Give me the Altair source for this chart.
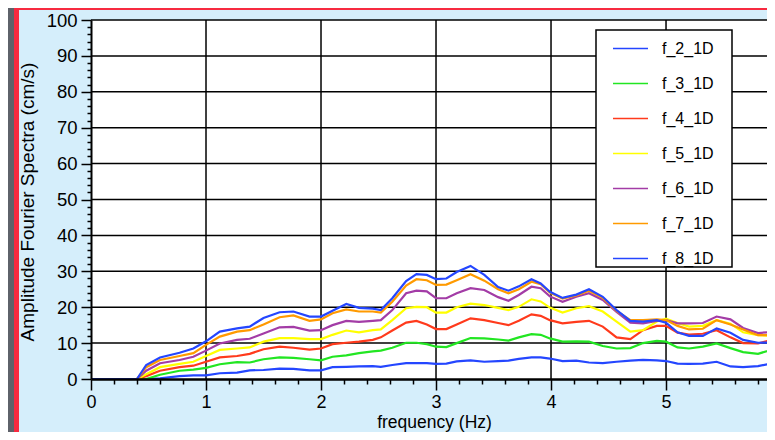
import altair as alt
import pandas as pd

# ---- data ----
freq = [0, 0.4, 0.48, 0.6, 0.77, 0.89, 1.0, 1.12, 1.27, 1.38, 1.5, 1.64, 1.76, 1.9, 2.0,
        2.1, 2.22, 2.33, 2.45, 2.52, 2.62, 2.74, 2.83, 2.92, 3.0, 3.09, 3.18, 3.3, 3.42,
        3.54, 3.63, 3.72, 3.83, 3.91, 3.99, 4.1, 4.22, 4.33, 4.45, 4.57, 4.69, 4.8, 4.92,
        5.0, 5.1, 5.2, 5.32, 5.44, 5.56, 5.67, 5.8, 5.95]

f_2_1D = [0, 0, 0, 0.2, 0.8, 1.0, 1.0, 1.6, 1.8, 2.4, 2.5, 2.9, 2.8, 2.4, 2.4,
          3.3, 3.4, 3.5, 3.6, 3.4, 3.9, 4.4, 4.4, 4.4, 4.2, 4.3, 4.9, 5.2, 4.8,
          5.0, 5.1, 5.6, 6.0, 6.0, 5.7, 5.0, 5.1, 4.6, 4.4, 4.8, 5.1, 5.3, 5.2,
          5.0, 4.3, 4.2, 4.3, 4.8, 3.5, 3.3, 3.6, 4.5]
f_3_1D = [0, 0, 0, 1.2, 2.3, 2.6, 3.1, 4.1, 4.7, 4.6, 5.5, 6.0, 5.9, 5.5, 5.2,
          6.2, 6.6, 7.2, 7.7, 7.9, 8.7, 10.1, 10.1, 9.7, 9.0, 8.9, 10.0, 11.4, 11.3,
          11.0, 10.7, 11.6, 12.5, 12.3, 11.3, 10.4, 10.5, 10.4, 9.2, 8.5, 8.6, 10.0, 10.6,
          10.4, 8.8, 8.5, 9.0, 9.9, 8.6, 7.5, 7.0, 8.5]
f_4_1D = [0, 0, 0.8, 2.3, 3.3, 3.7, 4.8, 6.0, 6.4, 7.0, 8.3, 9.0, 8.7, 8.2, 8.5,
          9.7, 10.1, 10.4, 10.9, 11.6, 13.5, 15.7, 16.2, 15.2, 13.9, 13.9, 15.2, 16.9, 16.4,
          15.6, 15.0, 16.2, 18.0, 17.6, 16.4, 15.5, 15.9, 16.2, 14.6, 11.6, 11.1, 13.6, 14.8,
          14.8, 12.9, 12.4, 12.6, 13.6, 11.6, 10.0, 9.9, 11.1]
f_5_1D = [0, 0, 1.3, 3.3, 4.2, 4.8, 6.4, 8.1, 8.5, 8.8, 10.4, 11.4, 11.4, 11.1, 11.1,
          12.3, 13.5, 13.0, 13.6, 13.8, 16.4, 19.7, 20.1, 20.0, 18.5, 18.5, 20.0, 21.0, 20.6,
          19.8, 19.2, 20.1, 22.2, 21.6, 19.9, 18.5, 19.7, 20.3, 18.8, 16.0, 13.2, 13.6, 16.0,
          16.8, 15.6, 14.6, 14.8, 16.4, 15.4, 13.0, 12.2, 12.0]
f_6_1D = [0, 0, 2.3, 4.4, 5.3, 6.2, 7.9, 9.9, 10.9, 11.2, 12.7, 14.4, 14.5, 13.5, 13.6,
          15.0, 16.2, 15.9, 16.2, 16.4, 19.2, 23.9, 24.6, 24.4, 22.5, 22.5, 23.9, 25.3, 24.8,
          22.8, 21.8, 23.4, 25.7, 25.3, 23.0, 21.5, 22.9, 23.9, 22.0, 18.7, 15.7, 15.5, 16.2,
          16.4, 15.5, 15.5, 15.6, 17.4, 16.6, 14.2, 12.8, 13.2]
f_7_1D = [0, 0, 3.3, 5.3, 6.4, 7.2, 9.5, 11.8, 13.2, 13.6, 15.2, 17.2, 17.7, 16.2, 16.6,
          18.3, 19.4, 18.8, 18.8, 18.5, 21.5, 26.0, 27.8, 27.5, 26.2, 26.3, 27.5, 29.2, 27.4,
          25.0, 23.9, 25.0, 27.1, 26.4, 24.1, 22.4, 23.3, 24.6, 22.6, 19.0, 16.4, 16.4, 16.6,
          16.4, 14.8, 13.8, 14.0, 16.4, 15.2, 13.8, 12.2, 12.2]
f_8_1D = [0, 0, 3.9, 6.0, 7.3, 8.5, 10.5, 13.2, 14.1, 14.6, 17.0, 18.6, 18.8, 17.4, 17.4,
          19.0, 20.9, 19.8, 19.6, 19.2, 22.5, 27.3, 29.2, 29.0, 27.8, 28.0, 29.8, 31.5, 29.0,
          25.6, 24.6, 25.8, 27.8, 26.6, 24.3, 22.6, 23.5, 25.0, 22.9, 19.2, 16.2, 16.0, 16.4,
          15.7, 13.0, 12.0, 12.0, 14.1, 12.9, 10.9, 10.1, 10.2]

series_names = ["f_2_1D", "f_3_1D", "f_4_1D", "f_5_1D", "f_6_1D", "f_7_1D", "f_8_1D"]
series_values = [f_2_1D, f_3_1D, f_4_1D, f_5_1D, f_6_1D, f_7_1D, f_8_1D]
series_colors = ["#2446ff", "#22e622", "#ff3a1c", "#ffff00", "#a33ca6", "#ff9a00", "#2446ff"]

x_grid = [1, 2, 3, 4, 5]
y_grid = [10, 20, 30, 40, 50, 60, 70, 80, 90, 100]
x_ticks = [round(i * 0.2, 1) for i in range(30)]
y_ticks = [i * 2 for i in range(51)]

# ---- layout constants (pixels) ----
W, H = 676, 359
PAD_L, PAD_T, PAD_B = 83, 12, 53
X_MAX = 5.878
FONT = "Liberation Sans"

rows = []
for name, vals in zip(series_names, series_values):
    for f, a in zip(freq, vals):
        rows.append({"frequency": f, "amplitude": a, "series": name})
df = pd.DataFrame(rows)

is_major = "abs(datum.value - round(datum.value)) < 1e-6"
is_major10 = "datum.value % 10 === 0"

x_scale = alt.Scale(domain=[0, X_MAX], nice=False, zero=False)
y_scale = alt.Scale(domain=[0, 100], nice=False)

x_axis = alt.Axis(
    values=x_ticks, grid=False, zindex=1,
    labelExpr=f"{is_major} ? '' + round(datum.value) : ''",
    tickSize={"condition": {"test": is_major, "value": 11}, "value": 5},
    tickColor="black", tickWidth=1.5, domainColor="black", domainWidth=2.5,
    labelFont=FONT, labelFontSize=18, labelColor="black", labelPadding=3,
    labelFlush=False, labelOverlap=False,
    title="frequency (Hz)", titleFont=FONT, titleFontSize=17.5, titleFontWeight="normal",
    titleColor="black", titleX=343, titleY=43, titleBaseline="middle", titleAlign="center",
)
y_axis = alt.Axis(
    values=y_ticks, grid=False, zindex=1,
    labelExpr=f"{is_major10} ? datum.label : ''",
    tickSize={"condition": {"test": is_major10, "value": 10}, "value": 4},
    tickColor="black", tickWidth=1.5, domainColor="black", domainWidth=2,
    labelFont=FONT, labelFontSize=18.5, labelColor="black", labelPadding=4,
    labelFlush=False, labelOverlap=False,
    title="Amplitude Fourier Spectra (cm/s)", titleFont=FONT, titleFontSize=19,
    titleFontWeight="normal", titleColor="black", titleX=-64, titleY=H / 2 + 2,
    titleBaseline="middle", titleAlign="center", titleAngle=270,
)

X = alt.X("frequency:Q", scale=x_scale, axis=x_axis)
Y = alt.Y("amplitude:Q", scale=y_scale, axis=y_axis)

one = pd.DataFrame({"k": [0]})
gray = alt.Chart(one).mark_rect(color="#5e626a").encode(
    x=alt.value(-PAD_L), x2=alt.value(W + 20), y=alt.value(-PAD_T), y2=alt.value(H + PAD_B + 20))
red = alt.Chart(one).mark_rect(color="#f72a40").encode(
    x=alt.value(-77), x2=alt.value(W + 20), y=alt.value(-PAD_T), y2=alt.value(H + PAD_B + 20))
blue = alt.Chart(one).mark_rect(color="#d5eefb").encode(
    x=alt.value(-72), x2=alt.value(W + 20), y=alt.value(-10), y2=alt.value(H + PAD_B + 20))
white = alt.Chart(one).mark_rect(color="white").encode(
    x=alt.value(0), x2=alt.value(W + 20), y=alt.value(0), y2=alt.value(H))

gx = alt.Chart(pd.DataFrame({"frequency": x_grid})).mark_rule(
    color="black", strokeWidth=1.5).encode(x=X)
gy = alt.Chart(pd.DataFrame({"amplitude": y_grid})).mark_rule(
    color="black", strokeWidth=1.5).encode(y=Y)

lines = alt.Chart(df).mark_line(strokeWidth=2.2, clip=True).encode(
    x=X, y=Y,
    color=alt.Color(
        "series:N",
        scale=alt.Scale(domain=series_names, range=series_colors),
        legend=alt.Legend(
            orient="none", legendX=505, legendY=10, title=None,
            symbolType="stroke", symbolSize=1225, symbolStrokeWidth=1.6,
            labelFont=FONT, labelFontSize=16, labelColor="black",
            strokeColor="black", fillColor="white", padding=0,
            rowPadding=8, symbolOffset=16, labelOffset=13,
            labelExpr="datum.label + '\u00a0\u00a0\u00a0\u00a0\u200b'",
        ),
    ),
    order=alt.Order("series:N"),
)

chart = alt.layer(gray, red, blue, white, gx, gy, lines).properties(
    width=W, height=H, background="#5e626a",
    padding={"left": PAD_L, "top": PAD_T, "right": 0, "bottom": PAD_B},
    autosize=alt.AutoSizeParams(type="none"),
).configure_view(stroke=None).configure_legend(strokeWidth=1.5)

chart.save("out.html", embed_options={"renderer": "svg", "actions": False})
